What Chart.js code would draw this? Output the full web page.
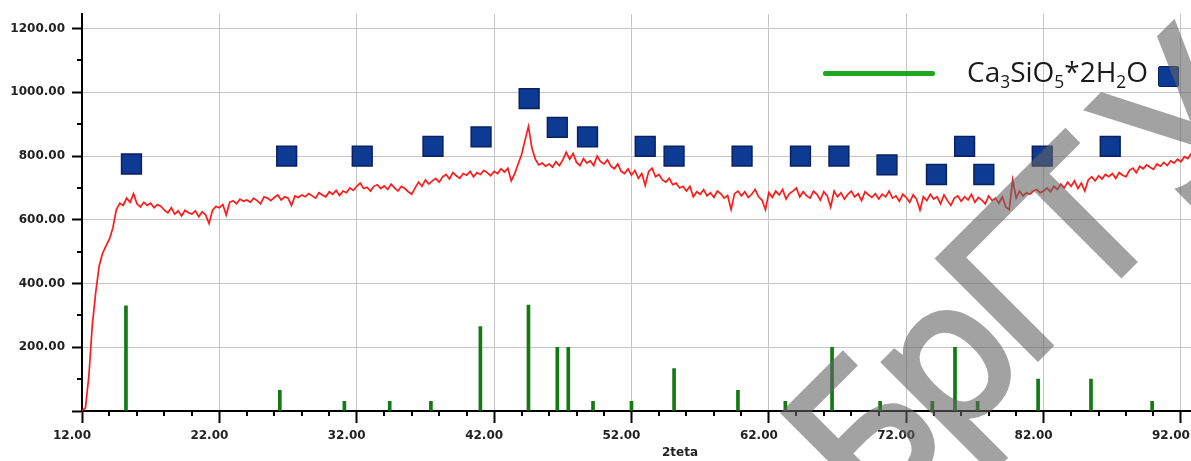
<!DOCTYPE html>
<html>
<head>
<meta charset="utf-8">
<script src="https://cdn.jsdelivr.net/npm/chart.js@4.4.0/dist/chart.umd.min.js"></script>
<style>
  html, body { margin: 0; padding: 0; background: #ffffff; }
  #wrap { position: relative; width: 1191px; height: 461px; overflow: hidden; background: #ffffff; }
  #chart { position: absolute; left: 0; top: 0; }
  .legend-line { position: absolute; left: 823px; top: 71px; width: 112px; height: 5px; background: #1fa81f; border-radius: 2px; }
  .legend-text { position: absolute; left: 967px; top: 57px; font-family: "Open Sans", sans-serif; font-size: 28px; line-height: 28px; color: #1a1a1a; white-space: nowrap; }
  .legend-text .s { font-size: 0.62em; position: relative; top: 0.34em; }
  .legend-box { position: absolute; left: 1158px; top: 66px; width: 19px; height: 19px; background: #0d3a93; border: 1.5px solid #0a2160; border-radius: 2px; }
  .stamp { position: absolute; left: 870px; top: 352px; font-family: "Open Sans", sans-serif; font-size: 195px; line-height: 195px;
           letter-spacing: -10px; transform-origin: 0 173px; transform: rotate(-45deg); color: #646464; -webkit-text-stroke: 7px #646464;
           opacity: 0.6; white-space: nowrap; pointer-events: none; }
  .stamp .wide { letter-spacing: 30px; }
</style>
</head>
<body>
<div id="wrap">
  <canvas id="chart" width="1191" height="461"></canvas>
  <div class="legend-line"></div>
  <div class="legend-text">Ca<span class="s">3</span>SiO<span class="s">5</span>*2H<span class="s">2</span>O</div>
  <div class="legend-box"></div>
  <div class="stamp">БрГ<span class="wide">Т</span>У</div>
</div>
<script>
// Axis ticks
const xMajorTicks = [12, 22, 32, 42, 52, 62, 72, 82, 92];
const yMajorTicks = [0, 200, 400, 600, 800, 1000, 1200];

// Measured scan: intensity every 0.25 degrees of 2theta starting at 12.00
const scanStart = 12;
const scanStep = 0.25;
const intensity = [
  0, 10, 110, 270, 372, 455, 495, 518,
  540, 575, 632, 652, 645, 668, 655, 682,
  650, 640, 655, 645, 652, 638, 648, 642,
  630, 622, 638, 618, 628, 612, 630, 622,
  618, 628, 610, 625, 615, 588, 630, 642,
  638, 648, 615, 655, 660, 650, 665, 658,
  662, 655, 668, 660, 650, 672, 668, 660,
  670, 678, 662, 672, 668, 645, 675, 670,
  678, 672, 682, 675, 668, 685, 678, 672,
  688, 680, 692, 676, 690, 685, 700, 692,
  705, 715, 698, 702, 690, 705, 710, 698,
  706, 695, 712, 700, 690, 705, 698, 688,
  680, 700, 718, 705, 725, 712, 722, 730,
  718, 735, 742, 728, 748, 738, 730, 745,
  740, 752, 735, 748, 742, 755, 748, 738,
  752, 745, 760, 750, 762, 722, 745, 775,
  805, 850, 893, 825, 790, 772, 778, 768,
  775, 765, 782, 770, 788, 812, 790, 808,
  780, 770, 792, 778, 785, 770, 800, 782,
  775, 788, 768, 760, 775, 752, 745, 760,
  740, 755, 730, 745, 708, 752, 762, 735,
  742, 725, 718, 730, 710, 715, 700, 705,
  690, 705, 672, 688, 680, 695, 675, 685,
  670, 690, 682, 668, 676, 632, 682, 690,
  675, 688, 670, 680, 695, 672, 662, 632,
  685, 670, 690, 678, 695, 665, 682, 690,
  700, 672, 688, 675, 668, 690, 680, 662,
  688, 675, 640, 690, 672, 685, 665, 680,
  690, 672, 682, 660, 688, 678, 670, 682,
  665, 680, 672, 690, 668, 675, 658, 680,
  670, 655, 678, 665, 630, 672, 660, 680,
  665, 672, 650, 678, 660, 645, 668, 675,
  658, 672, 662, 680, 655, 670, 662, 650,
  675, 660, 668, 652, 672, 640, 632, 725,
  668, 690, 675, 685, 680, 690, 695, 685,
  690, 700, 688, 705, 695, 712, 700, 718,
  705, 722, 698, 715, 690, 725, 735, 722,
  738, 728, 742, 735, 745, 730, 748, 740,
  735, 755, 762, 748, 768, 760, 772, 765,
  758, 775, 768, 780, 770, 785, 778, 790,
  782, 798, 792, 808
];

// Reference lines of Ca3SiO5*2H2O
const stickAngles  = [15.2, 26.4, 31.1, 34.4, 37.4, 41.0, 44.5, 46.6, 47.4, 49.2, 52.0, 55.1, 59.75, 63.2, 66.6, 70.1, 73.9, 75.55, 77.2, 81.6, 85.45, 89.9];
const stickHeights = [330, 65, 30, 30, 30, 265, 332, 200, 200, 30, 30, 133, 65, 30, 200, 30, 30, 200, 30, 100, 100, 30];

// Identified peaks
const peakAngles  = [15.6, 26.9, 32.4, 37.55, 41.05, 44.55, 46.6, 48.8, 53.0, 55.1, 60.05, 64.3, 67.1, 70.6, 74.2, 76.25, 77.65, 81.9, 86.85];
const peakHeights = [775, 800, 800, 830, 860, 980, 890, 860, 830, 800, 800, 800, 800, 772, 742, 830, 742, 800, 830];

const scanPoints = intensity.map((v, i) => ({ x: scanStart + i * scanStep, y: v }));
const stickPoints = stickAngles.map((a, i) => ({ x: a, y: stickHeights[i] }));
const peakPoints = peakAngles.map((a, i) => ({ x: a, y: peakHeights[i] }));

const tickFont = { family: 'DejaVu Sans', size: 12, weight: 'bold' };

// Small ticks between the labelled ones, and the axis caption
const axisExtras = {
  id: 'axisExtras',
  afterDraw(chart) {
    const { ctx, scales: { x, y } } = chart;
    ctx.save();
    ctx.strokeStyle = '#000';
    ctx.lineWidth = 2;
    ctx.beginPath();
    for (let i = 0; i < xMajorTicks.length - 1; i++) {
      for (let k = 2; k < 10; k += 2) {
        const px = Math.round(x.getPixelForValue(xMajorTicks[i] + k));
        ctx.moveTo(px, y.bottom);
        ctx.lineTo(px, y.bottom + 5);
      }
    }
    for (let i = 0; i < yMajorTicks.length - 1; i++) {
      const py = Math.round(y.getPixelForValue(yMajorTicks[i] + 100));
      ctx.moveTo(x.left - 5, py);
      ctx.lineTo(x.left, py);
    }
    ctx.stroke();
    ctx.font = 'bold 12px "DejaVu Sans"';
    ctx.fillStyle = '#222';
    ctx.textAlign = 'center';
    ctx.textBaseline = 'middle';
    ctx.fillText('2teta', 680, 453);
    ctx.restore();
  }
};

new Chart(document.getElementById('chart'), {
  type: 'line',
  data: {
    datasets: [
      { type: 'scatter', label: 'peaks', data: peakPoints, pointStyle: 'rect', pointRadius: 14, pointHoverRadius: 14,
        backgroundColor: '#0d3a93', borderColor: '#0a2160', borderWidth: 1.5, order: 1 },
      { type: 'bar', label: 'Ca3SiO5*2H2O', data: stickPoints, backgroundColor: '#137a13', barThickness: 3, order: 2 },
      { type: 'line', label: 'scan', data: scanPoints, borderColor: '#ff1a1a', borderWidth: 1.7, pointRadius: 0, tension: 0, order: 3 }
    ]
  },
  options: {
    responsive: false,
    animation: false,
    devicePixelRatio: 1,
    layout: { autoPadding: false, padding: { top: 13, right: 0, bottom: 0, left: 0 } },
    plugins: { legend: { display: false }, tooltip: { enabled: false } },
    scales: {
      x: {
        type: 'linear', min: 12, max: 92.73, offset: false,
        afterBuildTicks: s => { s.ticks = xMajorTicks.map(v => ({ value: v })); },
        afterFit: s => { s.height = 50; s.paddingLeft = 0; s.paddingRight = 0; },
        grid: { color: '#c6c6c6', lineWidth: 1, tickColor: '#000', tickWidth: 2, tickLength: 12, offset: false },
        border: { color: '#000', width: 2 },
        ticks: { font: tickFont, color: '#222', padding: 6, labelOffset: -10, maxRotation: 0, autoSkip: false,
                 callback: v => Number(v).toFixed(2) }
      },
      y: {
        type: 'linear', min: 0, max: 1245,
        afterBuildTicks: s => { s.ticks = yMajorTicks.map(v => ({ value: v })); },
        afterFit: s => { s.width = 82; },
        grid: { color: '#c6c6c6', lineWidth: 1, tickColor: '#000', tickWidth: 2, tickLength: 10 },
        border: { color: '#000', width: 2 },
        ticks: { font: tickFont, color: '#222', padding: 7, autoSkip: false,
                 callback: v => (v === 0 ? '' : Number(v).toFixed(2)) }
      }
    }
  },
  plugins: [axisExtras]
});
</script>
</body>
</html>
